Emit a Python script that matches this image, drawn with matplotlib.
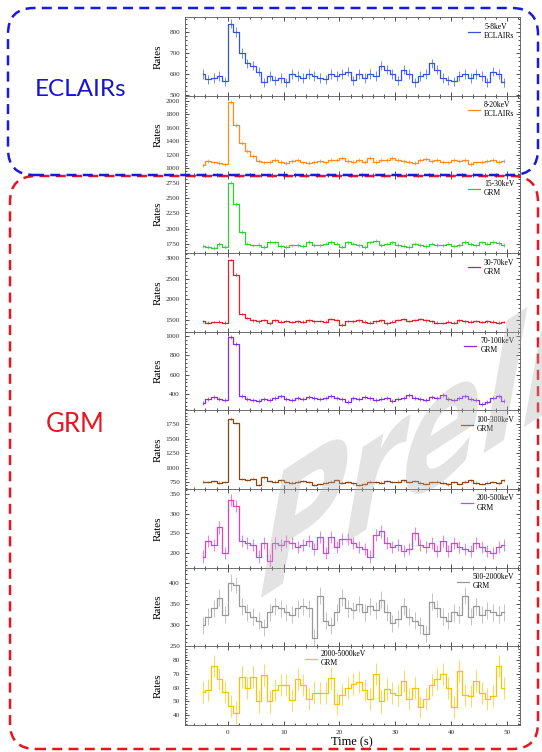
import matplotlib
matplotlib.use('Agg')
import matplotlib.pyplot as plt
import numpy as np
from matplotlib.font_manager import FontProperties
from matplotlib.patches import FancyBboxPatch, PathPatch
from matplotlib.textpath import TextPath
from matplotlib.ticker import AutoMinorLocator, MultipleLocator
from matplotlib.transforms import Affine2D, IdentityTransform

plt.rcParams['font.family'] = ['Liberation Serif', 'DejaVu Serif']

# time bins (s), 1 s wide
time = np.arange(-5, 50) + 0.5

rate_5_8 = [600, 575, 580, 590, 565, 840, 800, 700, 650, 640, 610, 560, 590, 570, 580,
            560, 600, 590, 580, 600, 590, 580, 575, 600, 590, 600, 610, 570, 600, 580,
            600, 590, 640, 620, 600, 570, 620, 600, 560, 590, 600, 650, 620, 580, 570,
            565, 590, 600, 580, 600, 590, 560, 610, 600, 560]
rate_8_20 = [1050, 1110, 1090, 1080, 1060, 1990, 1640, 1380, 1260, 1180, 1110, 1090, 1100, 1120, 1100,
             1080, 1110, 1120, 1090, 1080, 1100, 1110, 1090, 1130, 1120, 1150, 1110, 1100, 1130, 1100,
             1160, 1100, 1130, 1120, 1150, 1130, 1110, 1100, 1080, 1120, 1140, 1110, 1120, 1100, 1090,
             1130, 1110, 1120, 1070, 1090, 1100, 1110, 1130, 1100, 1110]
rate_15_30 = [1720, 1710, 1690, 1750, 1700, 2750, 2400, 1950, 1760, 1730, 1740, 1710, 1790, 1780, 1720,
              1700, 1730, 1740, 1720, 1790, 1740, 1730, 1760, 1790, 1760, 1700, 1780, 1760, 1730, 1700,
              1780, 1810, 1740, 1760, 1780, 1740, 1720, 1700, 1760, 1740, 1720, 1760, 1740, 1730, 1760,
              1720, 1740, 1790, 1750, 1730, 1780, 1760, 1790, 1770, 1740]
rate_30_70 = [1470, 1440, 1450, 1460, 1440, 2960, 2600, 1650, 1550, 1490, 1470, 1500, 1420, 1490, 1460,
              1480, 1450, 1470, 1460, 1490, 1470, 1480, 1460, 1530, 1500, 1390, 1480, 1470, 1490, 1460,
              1440, 1470, 1490, 1420, 1460, 1500, 1530, 1480, 1500, 1520, 1490, 1470, 1440, 1430, 1460,
              1440, 1490, 1470, 1460, 1480, 1450, 1470, 1460, 1440, 1450]
rate_70_100 = [310, 350, 370, 350, 340, 990, 920, 380, 350, 340, 330, 350, 340, 360, 380,
               350, 340, 360, 350, 370, 360, 350, 360, 380, 360, 350, 320, 360, 350, 370,
               360, 340, 350, 360, 330, 350, 360, 390, 360, 350, 340, 370, 360, 390, 350,
               340, 360, 380, 350, 340, 300, 320, 360, 380, 330]
rate_100_300 = [760, 750, 770, 740, 750, 1850, 1770, 800, 790, 810, 700, 830, 770, 760, 780,
                750, 740, 760, 770, 750, 700, 720, 740, 760, 790, 740, 750, 730, 700, 720,
                760, 750, 740, 770, 750, 760, 780, 750, 770, 740, 720, 750, 760, 740, 710,
                750, 720, 760, 780, 740, 720, 740, 750, 730, 780]
rate_200_500 = [190, 230, 220, 265, 200, 335, 320, 230, 225, 220, 190, 225, 180, 225, 220,
                230, 225, 215, 220, 230, 210, 240, 200, 240, 215, 235, 235, 225, 215, 210,
                190, 245, 255, 225, 215, 220, 205, 210, 250, 220, 215, 225, 205, 230, 205,
                225, 215, 210, 205, 225, 215, 205, 200, 215, 220]
rate_500_2000 = [300, 320, 340, 365, 325, 400, 395, 345, 330, 320, 310, 295, 330, 345, 340,
                 330, 325, 340, 345, 340, 270, 370, 310, 300, 330, 365, 340, 335, 350, 330,
                 345, 335, 360, 330, 305, 315, 345, 320, 310, 300, 280, 355, 340, 320, 310,
                 330, 325, 370, 320, 345, 325, 335, 330, 325, 330]
rate_2000_5000 = [57, 58, 76, 66, 57, 47, 42, 68, 60, 68, 50, 69, 50, 58, 62,
                  62, 51, 66, 62, 52, 56, 56, 56, 67, 48, 55, 60, 63, 64, 58,
                  52, 70, 50, 59, 56, 55, 65, 52, 60, 46, 52, 62, 66, 70, 60,
                  46, 72, 55, 54, 65, 56, 52, 54, 76, 60]

rates = [rate_5_8, rate_8_20, rate_15_30, rate_30_70, rate_70_100,
         rate_100_300, rate_200_500, rate_500_2000, rate_2000_5000]
labels = ['5-8keV\nECLAIRs', '8-20keV\nECLAIRs', '15-30keV\nGRM', '30-70keV\nGRM',
          '70-100keV\nGRM', '100-300keV\nGRM', '200-500keV\nGRM', '500-2000keV\nGRM',
          '2000-5000keV\nGRM']
errors = [22, 28, 30, 30, 20, 22, 16, 20, 8]
colors = ['#3355dd', '#ff8c1a', '#33cc33', '#e0202a', '#8a2be2',
          '#8b4513', '#e040c8', '#999999', '#ffc000']
err_colors = ['#6f8cf0', '#ffb066', '#7ee07e', '#f06070', '#b07cf0',
              '#f0a050', '#f080dc', '#c4c4c4', '#ffd84d']
ylims = [(495, 870), (910, 2075), (1605, 2880), (1215, 3120), (230, 1045),
         (630, 1990), (162, 363), (250, 436), (33, 90)]
yticks = [[500, 600, 700, 800], [1000, 1200, 1400, 1600, 1800, 2000],
          [1750, 2000, 2250, 2500, 2750], [1500, 2000, 2500, 3000],
          [400, 600, 800, 1000], [750, 1000, 1250, 1500, 1750],
          [200, 250, 300, 350], [250, 300, 350, 400], [40, 50, 60, 70, 80]]

figure = plt.figure(figsize=(5.42, 7.52), dpi=100)
gs = figure.add_gridspec(9, 1, left=0.341, right=0.959, top=0.977, bottom=0.036, hspace=0)

for i in range(9):
    ax = figure.add_subplot(gs[i, 0])
    ax.errorbar(time, rates[i], yerr=errors[i], fmt='none', ecolor=err_colors[i],
                elinewidth=0.7, capsize=0, zorder=1)
    ax.step(time, rates[i], where='mid', color=colors[i], lw=0.9, label=labels[i], zorder=2)
    ax.set_xlim(-7.7, 52.3)
    ax.set_ylim(*ylims[i])
    ax.set_yticks(yticks[i])
    ax.xaxis.set_major_locator(MultipleLocator(10))
    ax.xaxis.set_minor_locator(MultipleLocator(2))
    ax.yaxis.set_minor_locator(AutoMinorLocator(5))
    ax.tick_params(which='both', direction='in', top=True, right=True, labelsize=5.2,
                   width=0.6, colors='#333333')
    ax.tick_params(which='major', length=3)
    ax.tick_params(which='minor', length=1.5)
    for sp in ax.spines.values():
        sp.set_linewidth(0.6)
        sp.set_color('#555555')
    ax.set_ylabel('Rates', fontsize=8)
    ax.yaxis.set_label_coords(-0.065, 0.5)
    if i < 8:
        ax.tick_params(labelbottom=False)
        ax.legend(loc='upper right', frameon=False, fontsize=5.5, handlelength=1.6,
                  borderaxespad=0.3, handletextpad=0.5, labelspacing=0.2)
    else:
        ax.legend(loc='upper center', bbox_to_anchor=(0.45, 1.04), frameon=False, fontsize=5.5,
                  handlelength=1.6, handletextpad=0.5)
        ax.set_xlabel('Time (s)', fontsize=9, labelpad=1)

# detector group frames, in pixels
red_box = FancyBboxPatch((10, 3), 528, 573, boxstyle='round,pad=0,rounding_size=26',
                         transform=IdentityTransform(), fill=False, edgecolor='#e8141e',
                         linestyle=(0, (4, 2.5)), linewidth=1.8, zorder=10)
blue_box = FancyBboxPatch((8, 577), 530, 167, boxstyle='round,pad=0,rounding_size=26',
                          transform=IdentityTransform(), fill=False, edgecolor='#1a1adc',
                          linestyle=(0, (4, 2.5)), linewidth=1.8, zorder=11)
figure.patches.extend([red_box, blue_box])

figure.text(81 / 542, 1 - 90 / 752, 'ECLAIRs', color='#1414d2', fontsize=17.5,
            family=['Lato', 'DejaVu Sans'], ha='center', va='center')
figure.text(75 / 542, 1 - 424 / 752, 'GRM', color='#e8141e', fontsize=18.5,
            family=['Lato', 'DejaVu Sans'], ha='center', va='center')

# watermark: slanted "Preliminary", baseline rising ~33 deg, stems nearly upright
wm_path = TextPath((0, 0), 'Preliminary', size=1,
                   prop=FontProperties(family='DejaVu Sans', weight='bold'))
base_ang, stem_ang = np.radians(33), np.radians(80)
ex, ey = 140, 178
wm_tr = Affine2D(np.array([[ex * np.cos(base_ang), ey * np.cos(stem_ang), 250],
                           [ex * np.sin(base_ang), ey * np.sin(stem_ang), 752 - 605],
                           [0, 0, 1]]))
wm = PathPatch(wm_path, transform=wm_tr, facecolor='#b0b0b0', edgecolor='none',
               alpha=0.35, zorder=20)
figure.add_artist(wm)

figure.savefig('out.png', dpi=100)
